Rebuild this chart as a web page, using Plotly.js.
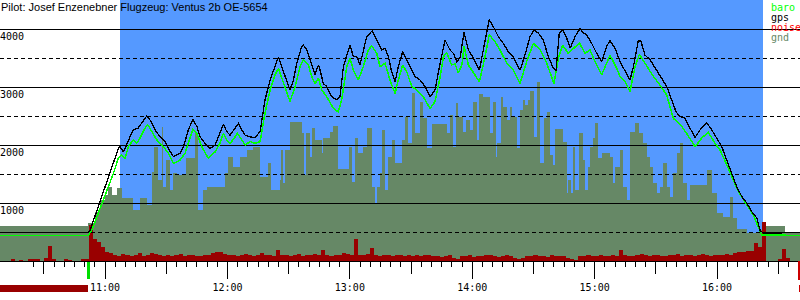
<!DOCTYPE html>
<html><head><meta charset="utf-8">
<script src="https://cdn.plot.ly/plotly-3.0.1.min.js"></script>
<style>html,body{margin:0;padding:0;background:#fff}#chart{width:800px;height:300px}
#chart path{shape-rendering:crispEdges}</style>
</head><body><div id="chart"></div>
<script>
const DAY = '2024-06-01 ';
const titleText = 'Pilot: Josef Enzenebner Flugzeug: Ventus 2b OE-5654';
const viewStart = '10:08:30', viewEnd = '16:40:40';
const taskStart = '11:07:20', taskEnd = '16:22:45';
const takeoffTime = '10:51:50';
const yTickVals = [1000, 2000, 3000, 4000];
const yTickText = ['1000', '2000', '3000', '4000'];
const yHalfVals = [500, 1500, 2500, 3500];
const legendNames = ['baro', 'gps', 'noise', 'gnd'];
const legendColors = ['#00ff00', '#000000', '#ff0000', '#668866'];

// gps altitude (black)
const gpsTime = [
'10:08:30','10:51:40','10:52:40','11:06:30','11:07:20','11:09:00','11:12:15','11:13:55','11:16:10','11:18:45',
'11:20:25','11:22:05','11:24:30','11:27:00','11:29:25','11:31:00','11:33:30','11:36:45','11:38:25','11:40:50',
'11:43:00','11:45:00','11:46:35','11:49:00','11:51:30','11:53:55','11:56:20','11:58:00','11:59:40','12:01:15',
'12:03:45','12:05:20','12:07:00','12:08:40','12:11:05','12:13:30','12:16:00','12:18:25','12:20:55','12:23:20',
'12:25:00','12:26:35','12:28:15','12:30:40','12:32:20','12:34:00','12:36:25','12:37:15','12:38:55','12:40:30',
'12:42:05','12:42:55','12:44:35','12:45:25','12:47:00','12:48:40','12:51:10','12:53:35','12:55:10','12:56:50',
'12:58:45','13:00:05','13:01:45','13:03:25','13:05:00','13:06:35','13:08:15','13:09:55','13:11:00','13:14:00',
'13:15:35','13:17:15','13:18:55','13:20:30','13:22:10','13:23:45','13:25:55','13:27:55','13:30:20','13:32:00',
'13:34:25','13:36:50','13:39:20','13:41:45','13:44:15','13:46:40','13:49:05','13:50:45','13:52:25','13:54:00',
'13:56:00','13:58:05','14:00:30','14:03:30','14:05:25','14:07:05','14:08:20','14:10:20','14:12:45','14:15:15',
'14:17:40','14:20:10','14:23:25','14:25:50','14:28:20','14:30:15','14:32:25','14:34:50','14:37:20','14:39:45',
'14:41:05','14:42:40','14:44:20','14:46:20','14:48:00','14:50:25','14:52:50','14:54:25','14:56:05','14:58:35',
'15:01:00','15:03:25','15:05:55','15:07:30','15:10:00','15:12:25','15:14:55','15:17:20','15:19:00','15:21:25',
'15:22:40','15:24:40','15:27:10','15:30:25','15:32:55','15:35:20','15:37:45','15:39:55','15:41:50','15:44:20',
'15:46:45','15:49:15','15:51:40','15:55:00','15:57:25','15:59:55','16:02:20','16:04:45','16:07:15','16:09:40',
'16:12:10','16:14:35','16:17:00','16:19:30','16:21:05','16:22:40','16:40:40'];
const gpsAlt = [
490,490,530,1940,1970,1880,2140,2260,2290,2430,
2500,2430,2260,2140,2060,1940,1800,1860,1970,2260,
2440,2320,2140,2030,1940,2000,2200,2360,2230,2170,
2290,2370,2260,2170,2140,2130,2230,2780,3120,3380,
3520,3350,3180,2950,3120,3410,3700,3720,3640,3470,
3260,3210,3380,3290,3060,3010,2830,2780,2830,3350,
3580,3720,3520,3520,3380,3640,3870,3930,3970,3750,
3640,3670,3520,3260,3090,3350,3610,3470,3290,3180,
3120,3010,2830,2950,3410,3810,3640,3580,3440,3500,
3940,3640,3500,3290,3640,3980,4160,4040,3870,3750,
3610,3520,3290,3550,3870,3980,3930,3810,3520,3320,
3290,3930,3980,3840,3670,3870,4010,3930,3900,3750,
3580,3440,3700,3800,3670,3440,3290,3120,3350,3800,
3790,3550,3470,3290,3150,3010,2780,2570,2490,2460,
2290,2130,2260,2380,2260,2120,1970,1740,1510,1280,
1110,1000,850,740,530,480,490];

// barometric altitude (green)
const baroTime = [
'10:08:30','10:51:40','10:53:30','10:59:10','11:04:05','11:06:30','11:08:10','11:09:50','11:11:25','11:13:50',
'11:15:30','11:17:10','11:19:35','11:20:55','11:22:55','11:25:20','11:28:35','11:31:00','11:33:30','11:36:45',
'11:39:15','11:41:40','11:43:00','11:45:00','11:47:25','11:50:40','11:53:55','11:56:20','11:58:00','11:59:40',
'12:01:15','12:03:45','12:04:50','12:07:00','12:08:40','12:11:05','12:13:30','12:16:00','12:18:25','12:20:55',
'12:23:20','12:25:00','12:27:25','12:30:40','12:33:10','12:35:35','12:37:15','12:39:40','12:41:20','12:42:55',
'12:44:35','12:46:15','12:48:40','12:51:55','12:54:20','12:56:00','12:58:30','13:00:05','13:01:45','13:04:10',
'13:06:35','13:09:05','13:10:45','13:13:10','13:14:50','13:17:15','13:19:40','13:22:10','13:23:45','13:25:55',
'13:27:55','13:30:20','13:32:45','13:36:00','13:39:20','13:41:45','13:44:15','13:45:50','13:47:30','13:49:55',
'13:51:35','13:53:10','13:54:55','13:56:00','13:58:05','14:00:30','14:03:30','14:06:15','14:08:20','14:11:10',
'14:13:35','14:16:55','14:20:10','14:23:25','14:26:40','14:30:00','14:33:15','14:36:30','14:40:05','14:42:15',
'14:44:20','14:47:05','14:49:35','14:52:30','14:55:20','14:57:40','15:00:10','15:03:25','15:05:55','15:07:30',
'15:10:50','15:12:25','15:14:55','15:17:20','15:19:50','15:21:55','15:24:40','15:28:50','15:32:05','15:35:20',
'15:38:35','15:40:15','15:42:40','15:45:05','15:47:35','15:49:15','15:52:30','15:55:40','15:59:00','16:01:30',
'16:04:45','16:08:00','16:10:25','16:14:35','16:17:50','16:20:10','16:21:55','16:40:40'];
const baroAlt = [
440,440,530,1050,1510,1770,1830,1770,1970,2090,
2030,2120,2290,2350,2230,2090,1970,1860,1680,1740,
1860,2140,2270,2200,1970,1770,1880,2030,2200,2090,
2020,2140,2200,2090,2000,2060,2030,2060,2550,2950,
3210,3320,3060,2750,3010,3350,3470,3380,3180,3060,
3150,2950,2830,2630,2570,2780,3350,3500,3290,3120,
3350,3640,3710,3580,3350,3410,3120,2890,3120,3380,
3260,3010,2950,2830,2630,2750,3170,3520,3590,3380,
3400,3240,3380,3700,3380,3260,3090,3520,3900,3780,
3640,3410,3290,3060,3440,3750,3640,3410,3060,3500,
3720,3580,3670,3760,3580,3640,3440,3210,3410,3550,
3320,3180,3090,2920,3350,3560,3410,3180,3030,2860,
2460,2400,2320,2200,2060,1970,2120,2220,2030,1910,
1660,1400,1200,970,790,590,450,440];

// ground elevation under the glider (step area)
const gndTime = [
'10:08:30','10:51:40','10:55:00','10:57:35','11:00:00','11:01:30','11:03:25','11:05:55','11:08:20','11:13:45',
'11:17:10','11:20:35','11:23:00','11:24:00','11:26:00','11:27:55','11:28:25','11:29:55','11:31:50','11:33:20',
'11:35:20','11:39:40','11:44:05','11:45:35','11:48:00','11:50:00','11:58:50','12:00:20','12:02:45','12:06:10',
'12:09:35','12:12:35','12:16:00','12:19:55','12:21:20','12:25:45','12:26:15','12:27:15','12:28:15','12:30:40',
'12:36:35','12:37:35','12:38:30','12:40:30','12:41:30','12:42:55','12:46:20','12:46:50','12:50:15','12:51:45',
'12:54:15','12:59:35','13:01:05','13:02:35','13:04:00','13:06:30','13:08:25','13:10:55','13:12:20','13:13:20',
'13:14:50','13:15:45','13:17:15','13:18:45','13:20:40','13:22:10','13:25:35','13:27:05','13:28:30','13:30:30',
'13:32:00','13:34:25','13:35:55','13:37:50','13:40:20','13:47:40','13:49:05','13:50:35','13:52:05','13:53:00',
'13:55:30','13:57:00','13:58:55','14:00:25','14:02:20','14:03:20','14:05:20','14:08:45','14:10:10','14:11:40',
'14:12:10','14:14:05','14:15:05','14:17:05','14:18:30','14:19:30','14:22:00','14:23:25','14:24:55','14:25:55',
'14:27:20','14:28:20','14:30:15','14:31:45','14:33:15','14:35:10','14:36:40','14:38:10','14:39:35','14:40:35',
'14:44:30','14:46:30','14:47:00','14:48:25','14:49:25','14:50:25','14:52:20','14:54:20','14:55:20','14:56:45',
'14:57:45','14:59:15','15:00:10','15:01:40','15:03:40','15:07:35','15:09:00','15:10:00','15:12:25','15:13:55',
'15:15:55','15:17:20','15:19:50','15:21:45','15:23:45','15:25:40','15:27:10','15:28:40','15:30:35','15:32:05',
'15:33:30','15:35:30','15:37:00','15:38:25','15:40:25','15:41:50','15:43:20','15:45:20','15:46:45','15:55:05',
'15:57:35','16:00:00','16:02:55','16:06:20','16:07:50','16:09:50','16:14:45','16:21:05','16:22:35','16:33:20',
'16:40:40'];
const gndAlt = [
600,650,850,1050,1140,1280,1140,1260,1090,880,
1090,970,1530,1970,1400,2310,1280,1740,1220,1520,
1480,1780,2210,880,1220,1280,1520,1790,1620,1790,
1910,1970,1450,1690,1220,1400,1910,1350,1910,2400,
2210,1480,2210,1790,2290,2090,1860,2120,2220,2330,
1590,1970,1360,2120,1860,1970,2290,1280,1000,1280,
1520,2260,1220,1790,2090,1690,2090,2480,2030,2900,
2210,2740,2470,1950,2360,2210,2520,1970,2720,2480,
2220,2430,2260,2740,2090,2880,2830,2210,2740,1790,
2030,2830,2660,2430,2660,2480,1950,2600,2780,2690,
2780,2930,2140,3090,1690,2470,2570,1830,1660,2280,
2050,1170,1400,1170,1970,1220,2210,1740,1220,1620,
1970,2120,2380,1780,1860,1790,1340,1620,1910,1280,
1050,2220,2380,2210,2030,1790,1620,1340,1170,1280,
1690,1280,1100,1520,1860,2030,1340,1050,1310,1570,
1170,830,760,1100,740,550,480,530,600,500,
500];

// noise level, one sample every 2 minutes from 10:08
const noiseStart = '10:08:00';
const noiseStepMin = 2;
const noiseVal = [
0,0,0,30,0,25,0,30,35,30,
0,60,260,30,0,0,30,25,0,0,
30,35,620,380,330,240,150,
140,110,90,120,100,80,110,130,90,100,
140,120,100,90,110,80,100,120,90,110,
100,90,80,110,100,130,160,150,120,100,
110,90,100,120,110,90,100,130,110,100,
90,190,110,100,80,100,120,90,110,100,
120,100,190,110,90,100,110,130,120,100,
380,110,100,120,224,110,90,100,110,90,
100,110,90,100,80,100,90,110,100,90,
80,70,90,100,60,30,80,90,100,70,
90,80,100,110,90,70,80,100,90,60,
40,50,80,90,100,80,90,70,100,80,
90,80,60,30,20,80,90,100,80,90,
100,80,90,110,90,190,100,80,90,110,
120,100,90,110,100,90,80,110,100,120,
90,100,110,90,100,120,100,90,110,100,
110,120,100,130,150,160,180,170,310,240,670,
0,0,0,40,200,60,0,0,0];

const D = t => DAY + t;
function addMin(t, m) {
  const [h, mi, s] = t.split(':').map(Number);
  const tot = h * 3600 + mi * 60 + (s || 0) + m * 60;
  const p = n => String(n).padStart(2, '0');
  return p(Math.floor(tot / 3600)) + ':' + p(Math.floor(tot % 3600 / 60)) + ':' + p(tot % 60);
}
const noiseTime = noiseVal.map((_, i) => D(addMin(noiseStart, i * noiseStepMin)));

const traces = [];
traces.push({x: gndTime.map(D), y: gndAlt, type: 'scatter', mode: 'lines', line: {shape: 'hv', width: 0, color: '#668866'},
  fill: 'tozeroy', fillcolor: '#668866', hoverinfo: 'skip'});
traces.push({x: noiseTime, y: noiseVal, type: 'scatter', mode: 'lines', line: {shape: 'hv', width: 0, color: '#990000'},
  fill: 'tozeroy', fillcolor: '#990000', hoverinfo: 'skip'});
yTickVals.forEach(v => traces.push({x: [D(viewStart), D(viewEnd)], y: [v, v], type: 'scatter', mode: 'lines',
  line: {color: '#000', width: 1}, hoverinfo: 'skip'}));
yHalfVals.forEach(v => traces.push({x: [D(viewStart), D(viewEnd)], y: [v, v], type: 'scatter', mode: 'lines',
  line: {color: '#000', width: 1, dash: '4px,3px'}, hoverinfo: 'skip'}));
traces.push({x: baroTime.map(D), y: baroAlt, type: 'scatter', mode: 'lines', line: {color: '#00ff00', width: 1.5}, hoverinfo: 'skip'});
traces.push({x: gpsTime.map(D), y: gpsAlt, type: 'scatter', mode: 'lines', line: {color: '#000000', width: 1.3}, hoverinfo: 'skip'});
traces.push({x: [], y: [], xaxis: 'x2', type: 'scatter', mode: 'lines', hoverinfo: 'skip'});

const plotH = 261;
const annotations = legendNames.map((n, i) => ({
  text: n, xref: 'paper', yref: 'paper', x: 769 / 800, y: 1 - (7.5 + 10 * i) / plotH,
  xanchor: 'left', yanchor: 'middle', showarrow: false,
  font: {family: 'DejaVu Sans Mono', size: 10, color: legendColors[i]}
}));

const shapes = [
  {type: 'rect', layer: 'below', xref: 'x', yref: 'paper', x0: D(taskStart), x1: D(taskEnd), y0: 0, y1: 1,
   fillcolor: '#5599ff', line: {width: 0}},
  {type: 'rect', xref: 'x', yref: 'paper', x0: D(viewStart), x1: D(takeoffTime), y0: -31 / plotH, y1: -24 / plotH,
   fillcolor: '#990000', line: {width: 0}},
  {type: 'line', xref: 'x', yref: 'paper', x0: D(takeoffTime), x1: D(takeoffTime), y0: -1 / plotH, y1: -18 / plotH,
   line: {color: '#00dd00', width: 3}},
  {type: 'rect', xref: 'paper', yref: 'paper', x0: 798 / 800, x1: 1, y0: -19 / plotH, y1: 0,
   fillcolor: '#cc0000', line: {width: 0}},
  {type: 'rect', xref: 'paper', yref: 'paper', x0: 798.5 / 800, x1: 1, y0: -31 / plotH, y1: -24 / plotH,
   fillcolor: '#cc0000', line: {width: 0}}
];

const xRange = [D(viewStart), D(viewEnd)];
const layout = {
  width: 800, height: 300,
  margin: {l: 0, r: 0, t: 0, b: 39, pad: 0},
  paper_bgcolor: '#ffffff', plot_bgcolor: '#ffffff',
  showlegend: false,
  title: {text: titleText, font: {family: 'Liberation Sans, Arial, sans-serif', size: 11, color: '#000'},
    x: 0, xref: 'container', xanchor: 'left', y: 1 - 7 / 300, yref: 'container', yanchor: 'middle', pad: {l: 1, t: 0, r: 0, b: 0}},
  xaxis: {type: 'date', range: xRange, showgrid: false, zeroline: false, showline: true, linecolor: '#000', linewidth: 1,
    ticks: 'outside', ticklen: 17, tickwidth: 1, tickcolor: '#000', dtick: 3600000, tick0: D('00:00:00'),
    tickformat: '%H:%M', tickfont: {family: 'DejaVu Sans Mono', size: 10, color: '#000'},
    minor: {dtick: 300000, tick0: D('00:00:00'), ticks: 'outside', ticklen: 5, tickwidth: 1, tickcolor: '#000', showgrid: false}},
  xaxis2: {type: 'date', range: xRange, overlaying: 'x', anchor: 'y', side: 'bottom', showgrid: false, zeroline: false,
    showline: false, ticks: 'outside', ticklen: 12, tickwidth: 1, tickcolor: '#000', dtick: 1800000, tick0: D('00:00:00'),
    showticklabels: false},
  yaxis: {range: [0, 4500], showgrid: false, zeroline: false, showline: false, ticks: '',
    tickmode: 'array', tickvals: yTickVals, ticktext: yTickText, ticklabelposition: 'inside',
    ticklabelshift: 7, ticklabelstandoff: -3,
    tickfont: {family: 'DejaVu Sans Mono', size: 10, color: '#000'}},
  annotations: annotations,
  shapes: shapes
};

Plotly.newPlot('chart', traces, layout, {staticPlot: true, displayModeBar: false});
</script>
</body></html>
